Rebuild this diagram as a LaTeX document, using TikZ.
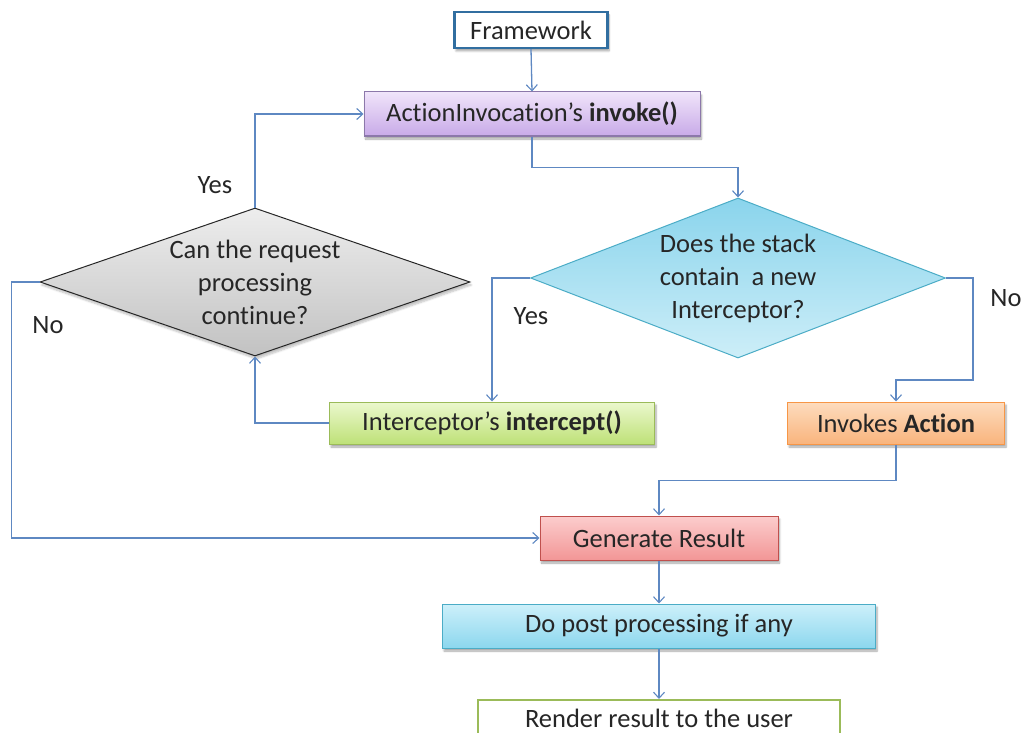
\documentclass[tikz,border=0pt]{standalone}
\usepackage{fontspec}
\setmainfont{Carlito}[Ligatures=NoCommon]
\usetikzlibrary{shapes.geometric,arrows.meta,shadows.blur}
\definecolor{lineblue}{HTML}{5E88C2}
\definecolor{txt}{HTML}{262626}
\tikzset{
  arr/.style={draw=lineblue, line width=1.3pt, -{Straight Barb[length=6pt,width=11pt,line width=1.1pt]}},
  boxbase/.style={rectangle, text=txt, font=\fontsize{26.5}{33}\selectfont, inner sep=0pt, align=center,
     blur shadow={shadow xshift=1.5pt, shadow yshift=-3pt, shadow opacity=35, shadow blur steps=6}},
  lbl/.style={text=txt, font=\fontsize{26.5}{33}\selectfont, inner sep=0pt},
}
\begin{document}
\begin{tikzpicture}[x=1pt,y=-1pt]
\useasboundingbox (0,0) rectangle (1030,733);
\clip (0,0) rectangle (1030,733);
% nodes
\node[boxbase, draw={rgb,255:red,49;green,110;blue,160}, line width=2.2pt, fill=white, minimum width=153pt, minimum height=36pt] (fw) at (531,30) {Framework};
\node[boxbase, draw={rgb,255:red,140;green,120;blue,170}, line width=1pt, top color={rgb,255:red,240;green,228;blue,250}, bottom color={rgb,255:red,200;green,170;blue,232}, minimum width=336pt, minimum height=44pt] (aii) at (532,114) {ActionInvocation’s \textbf{invoke()}};
\node[diamond, draw={rgb,255:red,75;green,172;blue,198}, line width=1pt, top color={rgb,255:red,138;green,212;blue,236}, bottom color={rgb,255:red,205;green,238;blue,248}, minimum width=415pt, minimum height=160pt, aspect=2.6, inner sep=0pt] (db) at (738,278) {};
\node[lbl, align=center] (dbt) at (db.center) {Does the stack\\contain\ \ a new\\Interceptor?};
\node[diamond, draw=black!85, line width=1pt, top color=black!7, bottom color=black!24, minimum width=430pt, minimum height=148pt, aspect=2.9, inner sep=0pt,
  blur shadow={shadow xshift=1.5pt, shadow yshift=-3pt, shadow opacity=25, shadow blur steps=6}] (dg) at (255,282) {};
\node[lbl, align=center] (dgt) at (dg.center) {Can the request\\processing\\continue?};
\node[boxbase, draw={rgb,255:red,155;green,187;blue,89}, line width=1pt, top color={rgb,255:red,235;green,248;blue,205}, bottom color={rgb,255:red,190;green,225;blue,120}, minimum width=325pt, minimum height=42pt] (ic) at (492,423) {Interceptor’s \textbf{intercept()}};
\node[boxbase, draw={rgb,255:red,247;green,150;blue,70}, line width=1pt, top color={rgb,255:red,253;green,220;blue,190}, bottom color={rgb,255:red,249;green,180;blue,125}, minimum width=217pt, minimum height=42pt] (ia) at (896,423) {Invokes \textbf{Action}};
\node[boxbase, draw={rgb,255:red,192;green,80;blue,77}, line width=1pt, top color={rgb,255:red,252;green,205;blue,205}, bottom color={rgb,255:red,242;green,150;blue,150}, minimum width=238pt, minimum height=44pt] (gr) at (659,538) {Generate Result};
\node[boxbase, draw={rgb,255:red,75;green,172;blue,198}, line width=1pt, top color={rgb,255:red,205;green,240;blue,250}, bottom color={rgb,255:red,140;green,215;blue,238}, minimum width=433pt, minimum height=44pt] (dp) at (659,626) {Do post processing if any};
\node[boxbase, draw={rgb,255:red,155;green,187;blue,89}, line width=2pt, fill=white, minimum width=362pt, minimum height=44pt, blur shadow={shadow opacity=0}] (rr) at (659,722) {};
\node[lbl] (rrt) at (659,718) {Render result to the user};
% labels
\node[lbl] (yes1) at (215,185) {Yes};
\node[lbl] (yes2) at (531,316) {Yes};
\node[lbl] (no1) at (1006,298) {No};
\node[lbl] (no2) at (48,325) {No};
% connectors
\draw[arr] (fw.south) -- (aii.north);
\draw[arr] (aii.south) -- ++(0,31) -| (db.north);
\draw[arr] (db.west) -| (ic.north);
\draw[arr] (db.east) -- ++(27,0) -- ++(0,102) -| (ia.north);
\draw[arr] (ic.west) -| (dg.south);
\draw[arr] (dg.north) |- (aii.west);
\draw[arr] (dg.west) -- ++(-28,0) |- (gr.west);
\draw[arr] (ia.south) -- ++(0,36) -| (gr.north);
\draw[arr] (gr.south) -- (dp.north);
\draw[arr] (dp.south) -- (rr.north);
\end{tikzpicture}
\end{document}
